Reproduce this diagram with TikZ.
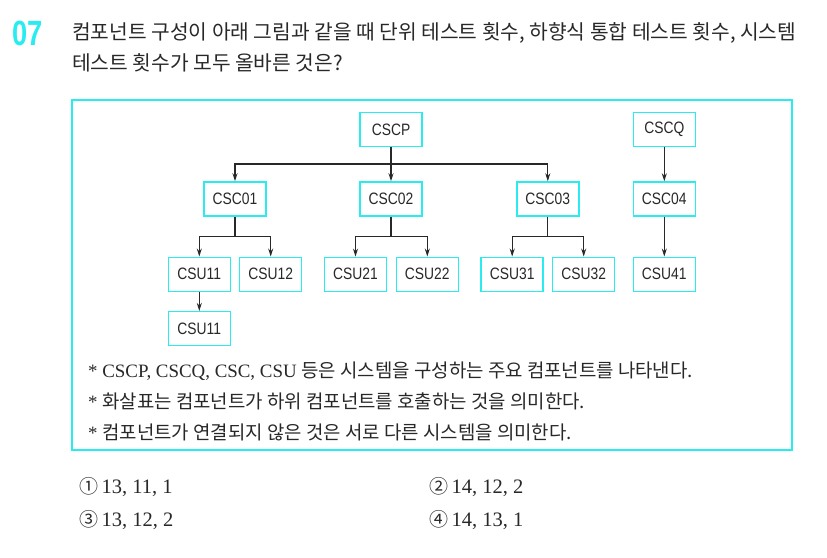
\documentclass[tikz,border=0pt]{standalone}
\usepackage{fontspec}
\usetikzlibrary{arrows.meta}
\newfontfamily\kr{Noto Sans CJK KR}
\newfontfamily\boxf[FakeStretch=0.84]{Liberation Sans}
\newfontfamily\numf[FakeStretch=0.78]{Liberation Sans}
\newfontfamily\serf{Liberation Serif}
\newfontfamily\circf{DejaVu Sans}
\definecolor{cy}{RGB}{40,236,240}
\definecolor{tx}{RGB}{40,40,40}
\tikzset{
  comp/.style={draw=cy, line width=1.5pt, minimum width=62pt, minimum height=34pt, inner sep=0pt, text=tx, font=\boxf\fontsize{16.5}{17}\selectfont},
  conn/.style={draw=tx, line width=1.1pt, -{Stealth[length=8pt,width=5pt]}},
  line/.style={draw=tx, line width=1.1pt},
  txt/.style={anchor=west, inner sep=0pt, text=tx},
}
\newcommand{\circd}[1]{{\kr\fontsize{19}{20}\selectfont #1}\,}
\begin{document}
\begin{tikzpicture}[x=1pt,y=-1pt]
\useasboundingbox (0,0) rectangle (827,557);
% title
\node[anchor=west, inner sep=0pt, text=cy, font=\numf\bfseries\fontsize{35}{36}\selectfont] (num) at (12,33) {07};
\node[txt, font=\kr\fontsize{20.3}{21}\selectfont] (t1) at (72,33) {컴포넌트 구성이 아래 그림과 같을 때 단위 테스트 횟수, 하향식 통합 테스트 횟수, 시스템};
\node[txt, font=\kr\fontsize{20.3}{21}\selectfont] (t2) at (72,63) {테스트 횟수가 모두 올바른 것은?};
% frame
\draw[draw=cy, line width=1.2pt] (72,100) rectangle (792,450);
% nodes
\node[comp] (cscp) at (391,129.5) {CSCP};
\node[comp] (cscq) at (664.3,129.5) {CSCQ};
\node[comp] (c01) at (235,199) {CSC01};
\node[comp] (c02) at (391,199) {CSC02};
\node[comp] (c03) at (547.8,199) {CSC03};
\node[comp] (c04) at (664.3,199) {CSC04};
\node[comp] (u11) at (199.3,274.3) {CSU11};
\node[comp] (u12) at (270.7,274.3) {CSU12};
\node[comp] (u21) at (355.5,274.3) {CSU21};
\node[comp] (u22) at (427.3,274.3) {CSU22};
\node[comp] (u31) at (512.2,274.3) {CSU31};
\node[comp] (u32) at (583.7,274.3) {CSU32};
\node[comp] (u41) at (664.3,274.3) {CSU41};
\node[comp] (u11b) at (199.3,328.7) {CSU11};
% connectors
\coordinate (jp) at (391,164);
\draw[line] (cscp.south) -- (jp);
\draw[conn] (jp) -| (c01.north);
\draw[conn] (jp) -- (c02.north);
\draw[conn] (jp) -| (c03.north);
\coordinate (j1) at (235,236.7);
\draw[line] (c01.south) -- (j1);
\draw[conn] (j1) -| (u11.north);
\draw[conn] (j1) -| (u12.north);
\coordinate (j2) at (391,236.7);
\draw[line] (c02.south) -- (j2);
\draw[conn] (j2) -| (u21.north);
\draw[conn] (j2) -| (u22.north);
\coordinate (j3) at (547.8,236.7);
\draw[line] (c03.south) -- (j3);
\draw[conn] (j3) -| (u31.north);
\draw[conn] (j3) -| (u32.north);
\draw[conn] (cscq) -- (c04);
\draw[conn] (c04) -- (u41);
\draw[conn] (u11) -- (u11b);
% notes
\node[txt, font=\fontsize{18.9}{19}\selectfont] (n1) at (88,371) {\serf * CSCP, CSCQ, CSC, CSU {\kr 등은 시스템을 구성하는 주요 컴포넌트를 나타낸다.}};
\node[txt, font=\fontsize{18.9}{19}\selectfont] (n2) at (88,401) {\serf * {\kr 화살표는 컴포넌트가 하위 컴포넌트를 호출하는 것을 의미한다.}};
\node[txt, font=\fontsize{18.9}{19}\selectfont] (n3) at (88,432) {\serf * {\kr 컴포넌트가 연결되지 않은 것은 서로 다른 시스템을 의미한다.}};
% options
\node[txt, font=\serf\fontsize{20.5}{21}\selectfont] (o1) at (79,487) {\circd{①}13, 11, 1};
\node[txt, font=\serf\fontsize{20.5}{21}\selectfont] (o2) at (429,487) {\circd{②}14, 12, 2};
\node[txt, font=\serf\fontsize{20.5}{21}\selectfont] (o3) at (79,520) {\circd{③}13, 12, 2};
\node[txt, font=\serf\fontsize{20.5}{21}\selectfont] (o4) at (429,520) {\circd{④}14, 13, 1};
\end{tikzpicture}
\end{document}
